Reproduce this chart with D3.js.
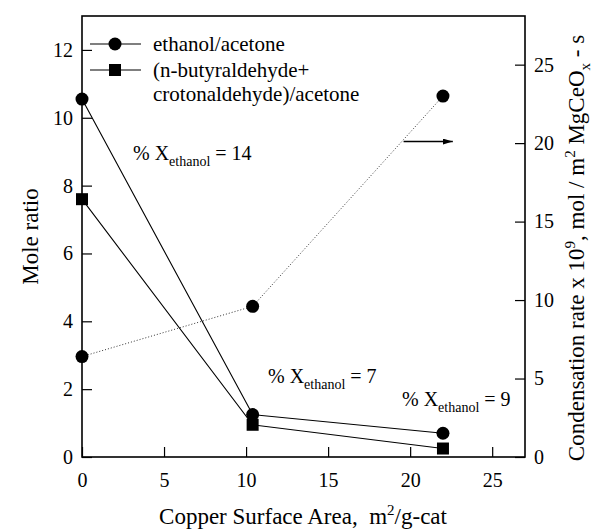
<!DOCTYPE html>
<html>
<head>
<meta charset="utf-8">
<style>
    body { margin: 0; background: white; }
    svg text, svg tspan { font-family: "Times New Roman", "Liberation Serif", Tinos, serif !important; }
</style>
</head>
<body>
<svg width="597" height="531"></svg>
<script src="https://d3js.org/d3.v7.min.js"></script>
<script>
    // copper surface area (m2/g-cat)
    let area = [0, 10.4, 22]
    let ethanolAcetone = [10.55, 1.25, 0.7]
    let aldehydeAcetone = [7.6, 0.95, 0.25]
    let condensation = [6.4, 9.6, 23.0]
    let conversion = [14, 7, 9]

    let xTicks = [0, 5, 10, 15, 20, 25]
    let yTicks = [0, 2, 4, 6, 8, 10, 12]
    let y2Ticks = [0, 5, 10, 15, 20, 25]

    let svg = d3.select("svg")
    let plotLeft = 82, plotRight = 525, plotTop = 16, plotBottom = 457

    let x = d3.scaleLinear().domain([0, 27]).range([plotLeft, plotRight])
    let y = d3.scaleLinear().domain([0, 13]).range([plotBottom, plotTop])
    let y2 = d3.scaleLinear().domain([0, 28.1]).range([plotBottom, plotTop])

    // frame
    svg.append("rect")
        .attr("x", plotLeft).attr("y", plotTop)
        .attr("width", plotRight - plotLeft).attr("height", plotBottom - plotTop)
        .attr("fill", "none").attr("stroke", "black").attr("stroke-width", 1.6)

    // left axis
    let yAxis = svg.append("g").attr("transform", `translate(${plotLeft},0)`)
        .call(d3.axisRight(y).tickValues(yTicks).tickSize(10).tickFormat(d3.format("d")))
    yAxis.select(".domain").remove()
    yAxis.selectAll("line").attr("stroke-width", 1.2)
    yAxis.selectAll("text").attr("x", -9).attr("text-anchor", "end")

    // right axis
    let y2Axis = svg.append("g").attr("transform", `translate(${plotRight},0)`)
        .call(d3.axisLeft(y2).tickValues(y2Ticks).tickSize(10).tickFormat(d3.format("d")))
    y2Axis.select(".domain").remove()
    y2Axis.selectAll("line").attr("stroke-width", 1.2)
    y2Axis.selectAll("text").attr("x", 9).attr("text-anchor", "start")

    // bottom axis
    let xAxis = svg.append("g").attr("transform", `translate(0,${plotBottom})`)
        .call(d3.axisTop(x).tickValues(xTicks).tickSize(10).tickFormat(d3.format("d")))
    xAxis.select(".domain").remove()
    xAxis.selectAll("line").attr("stroke-width", 1.2)
    xAxis.selectAll("text").attr("y", 30)

    svg.selectAll(".tick text").attr("font-size", 20)
    svg.selectAll("g").attr("font-family", null)

    // series
    let line = d3.line()
    let pts = (ys, sc) => area.map((a, i) => [x(a), sc(ys[i])])

    svg.append("path").attr("d", line(pts(condensation, y2)))
        .attr("fill", "none").attr("stroke", "#333").attr("stroke-width", 1)
        .attr("stroke-dasharray", "1,2")
    svg.append("path").attr("d", line(pts(ethanolAcetone, y)))
        .attr("fill", "none").attr("stroke", "black").attr("stroke-width", 1.1)
    svg.append("path").attr("d", line(pts(aldehydeAcetone, y)))
        .attr("fill", "none").attr("stroke", "black").attr("stroke-width", 1.1)

    svg.append("g").selectAll("circle")
        .data(pts(ethanolAcetone, y).concat(pts(condensation, y2)))
        .join("circle")
        .attr("cx", d => d[0]).attr("cy", d => d[1]).attr("r", 6.5)
        .attr("fill", "black")
    svg.append("g").selectAll("rect")
        .data(pts(aldehydeAcetone, y))
        .join("rect")
        .attr("x", d => d[0] - 6).attr("y", d => d[1] - 6)
        .attr("width", 12).attr("height", 12)
        .attr("fill", "black")

    // arrow pointing to right axis
    svg.append("defs").append("marker")
        .attr("id", "arr").attr("viewBox", "0 0 10 6")
        .attr("refX", 10).attr("refY", 3)
        .attr("markerWidth", 10).attr("markerHeight", 6)
        .attr("markerUnits", "userSpaceOnUse")
        .attr("orient", "auto")
        .append("path").attr("d", "M0,0L10,3L0,6Z").attr("fill", "black")
    svg.append("line")
        .attr("x1", x(19.6)).attr("x2", x(22.6))
        .attr("y1", y2(20.1)).attr("y2", y2(20.1))
        .attr("stroke", "black").attr("stroke-width", 1.5)
        .attr("marker-end", "url(#arr)")

    // legend
    let legend = svg.append("g").attr("font-size", 21)
    let legY = [44, 70]
    legend.selectAll("line").data(legY).join("line")
        .attr("x1", 90).attr("x2", 141)
        .attr("y1", d => d).attr("y2", d => d)
        .attr("stroke", "black").attr("stroke-width", 1.1)
    legend.append("circle").attr("cx", 115).attr("cy", legY[0]).attr("r", 6.5)
    legend.append("rect").attr("x", 109).attr("y", legY[1] - 6).attr("width", 12).attr("height", 12)
    legend.append("text").attr("x", 153).attr("y", 51).text("ethanol/acetone")
    legend.append("text").attr("x", 153).attr("y", 77).text("(n-butyraldehyde+")
    legend.append("text").attr("x", 153).attr("y", 101).text("crotonaldehyde)/acetone")

    // conversion labels
    let convPos = [[133, 160], [268, 383], [402, 406]]
    conversion.forEach((c, i) => {
        let t = svg.append("text")
            .attr("x", convPos[i][0]).attr("y", convPos[i][1])
            .attr("font-size", 20)
        t.append("tspan").text("% X")
        t.append("tspan").attr("dy", 6).attr("font-size", 14).text("ethanol")
        t.append("tspan").attr("dy", -6).text(" = " + c)
    })

    // axis titles
    svg.append("text")
        .attr("transform", `translate(38,${(plotTop + plotBottom) / 2}) rotate(-90)`)
        .attr("text-anchor", "middle").attr("font-size", 23)
        .text("Mole ratio")

    let xt = svg.append("text")
        .attr("x", 303).attr("y", 524)
        .attr("text-anchor", "middle").attr("font-size", 23)
    xt.append("tspan").text("Copper Surface Area,\u00a0\u00a0m")
    xt.append("tspan").attr("dy", -9).attr("font-size", 15).text("2")
    xt.append("tspan").attr("dy", 9).text("/g-cat")

    let rt = svg.append("text")
        .attr("transform", `translate(584,${248}) rotate(-90)`)
        .attr("text-anchor", "middle").attr("font-size", 23)
    rt.append("tspan").text("Condensation rate x 10")
    rt.append("tspan").attr("dy", -9).attr("font-size", 15).text("9")
    rt.append("tspan").attr("dy", 9).text(", mol / m")
    rt.append("tspan").attr("dy", -9).attr("font-size", 15).text("2")
    rt.append("tspan").attr("dy", 9).text(" MgCeO")
    rt.append("tspan").attr("dy", 6).attr("font-size", 15).text("x")
    rt.append("tspan").attr("dy", -6).text(" - s")
</script>
</body>
</html>
